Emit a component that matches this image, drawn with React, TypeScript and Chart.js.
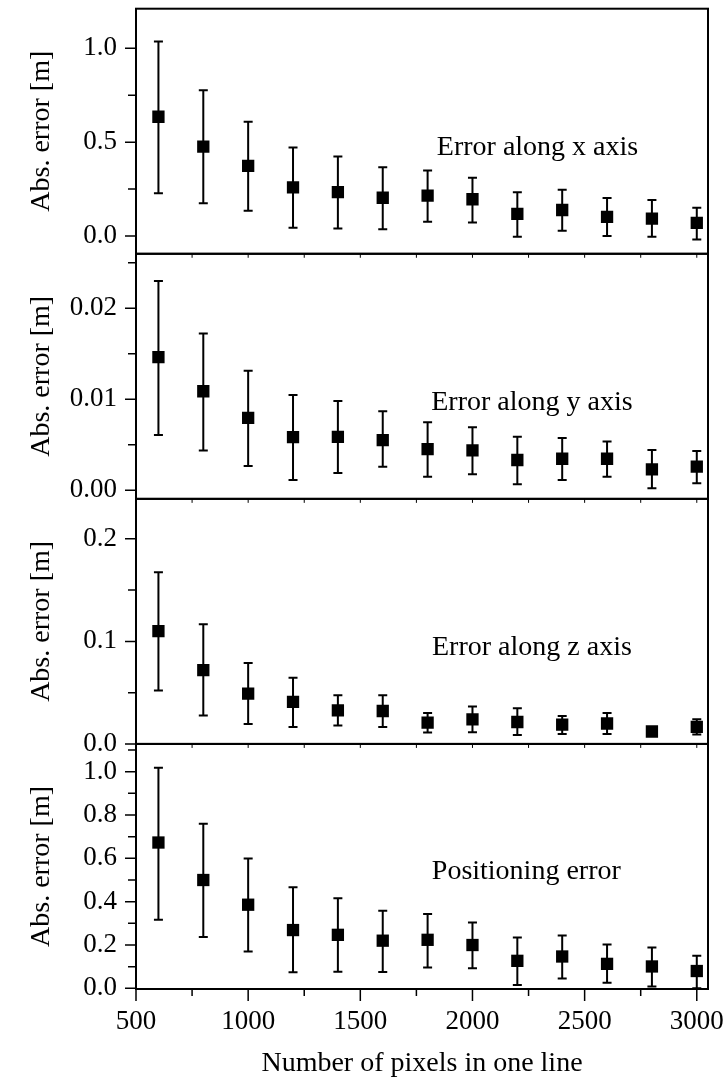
import React, { useEffect, useRef } from 'react';
import { Chart, registerables } from 'chart.js';

Chart.register(...registerables);

// ---------- data ----------
const pixelsPerLine = [600, 800, 1000, 1200, 1400, 1600, 1800, 2000, 2200, 2400, 2600, 2800, 3000];

const errXMean = [0.635, 0.476, 0.374, 0.259, 0.234, 0.204, 0.215, 0.196, 0.118, 0.139, 0.102, 0.093, 0.07];
const errXUpper = [1.035, 0.776, 0.608, 0.471, 0.423, 0.367, 0.349, 0.31, 0.234, 0.247, 0.203, 0.192, 0.151];
const errXLower = [0.228, 0.175, 0.135, 0.044, 0.04, 0.037, 0.077, 0.072, -0.004, 0.028, 0.0, -0.004, -0.018];

const errYMean = [0.01463, 0.01088, 0.00795, 0.00584, 0.00587, 0.00551, 0.00452, 0.00438, 0.00332, 0.00346, 0.00346, 0.0023, 0.00259];
const errYUpper = [0.023, 0.01723, 0.01314, 0.01047, 0.00981, 0.00869, 0.00748, 0.00693, 0.00587, 0.00573, 0.00537, 0.00441, 0.0043];
const errYLower = [0.00606, 0.00438, 0.00266, 0.00113, 0.0019, 0.00259, 0.00149, 0.00175, 0.00066, 0.00113, 0.00149, 0.00022, 0.00077];

const errZMean = [0.11, 0.072, 0.049, 0.041, 0.0328, 0.0321, 0.0208, 0.024, 0.0214, 0.0189, 0.0199, 0.0121, 0.0166];
const errZUpper = [0.1675, 0.1166, 0.079, 0.0646, 0.0474, 0.0474, 0.0302, 0.0364, 0.0348, 0.0273, 0.0302, 0.0145, 0.024];
const errZLower = [0.052, 0.0276, 0.0195, 0.0166, 0.0179, 0.0166, 0.0111, 0.0114, 0.0088, 0.0097, 0.0097, 0.0097, 0.0091];

const posMean = [0.673, 0.5, 0.386, 0.269, 0.247, 0.22, 0.224, 0.2, 0.127, 0.147, 0.113, 0.101, 0.08];
const posUpper = [1.018, 0.76, 0.599, 0.466, 0.416, 0.358, 0.343, 0.304, 0.235, 0.244, 0.202, 0.188, 0.151];
const posLower = [0.317, 0.237, 0.17, 0.074, 0.077, 0.075, 0.096, 0.093, 0.015, 0.045, 0.026, 0.008, 0.0];

const panelLabels = ['Error along x axis', 'Error along y axis', 'Error along z axis', 'Positioning error'];
const panelMin = [-0.094, -0.00095, 0, -0.003];
const panelMax = [1.21, 0.026, 0.239, 1.128];
const panelMajorTicks = [
  [0, 0.5, 1.0],
  [0, 0.01, 0.02],
  [0, 0.1, 0.2],
  [0, 0.2, 0.4, 0.6, 0.8, 1.0],
];
const panelMinorTicks = [
  [0.25, 0.75],
  [0.005, 0.015, 0.025],
  [0.05, 0.15],
  [0.1, 0.3, 0.5, 0.7, 0.9, 1.1],
];
const panelTickDecimals = [1, 2, 1, 1];
const panelLabelX = [2290, 2265, 2265, 2240];
const panelLabelY = [0.47, 0.0096, 0.094, 0.537];

const xMin = 500;
const xMax = 3050;
const xMajorTicks = [500, 1000, 1500, 2000, 2500, 3000];
const xMinorTicks = [750, 1250, 1750, 2250, 2750];

const yAxisTitle = 'Abs. error [m]';
const xAxisTitle = 'Number of pixels in one line';

// ---------- chart ----------
const FONT = '"Liberation Serif", "Times New Roman", serif';
const panelMeans = [errXMean, errYMean, errZMean, posMean];
const panelUppers = [errXUpper, errYUpper, errZUpper, posUpper];
const panelLowers = [errXLower, errYLower, errZLower, posLower];
const panelIds = ['y1', 'y2', 'y3', 'y4'];

const errorBarPlugin = {
  id: 'errorBars',
  beforeDatasetsDraw(chart: any) {
    const ctx = chart.ctx;
    const xs = chart.scales.x;
    ctx.save();
    ctx.strokeStyle = '#000';
    ctx.lineWidth = 2;
    panelIds.forEach((id, p) => {
      const ys = chart.scales[id];
      pixelsPerLine.forEach((xv, i) => {
        const px = xs.getPixelForValue(xv);
        const top = ys.getPixelForValue(panelUppers[p][i]);
        const bot = ys.getPixelForValue(panelLowers[p][i]);
        ctx.beginPath();
        ctx.moveTo(px, top);
        ctx.lineTo(px, bot);
        ctx.moveTo(px - 4.5, top);
        ctx.lineTo(px + 4.5, top);
        ctx.moveTo(px - 4.5, bot);
        ctx.lineTo(px + 4.5, bot);
        ctx.stroke();
      });
    });
    ctx.restore();
  },
};

const framePlugin = {
  id: 'frame',
  afterDraw(chart: any) {
    const ctx = chart.ctx;
    const xs = chart.scales.x;
    const area = chart.chartArea;
    ctx.save();
    ctx.strokeStyle = '#000';
    ctx.fillStyle = '#000';
    // ticks
    ctx.lineWidth = 1.5;
    panelIds.forEach((id, p) => {
      const ys = chart.scales[id];
      ctx.beginPath();
      panelMajorTicks[p].forEach((v) => {
        const py = ys.getPixelForValue(v);
        ctx.moveTo(area.left - 11, py);
        ctx.lineTo(area.left, py);
      });
      panelMinorTicks[p].forEach((v) => {
        const py = ys.getPixelForValue(v);
        ctx.moveTo(area.left - 8, py);
        ctx.lineTo(area.left, py);
      });
      ctx.stroke();
      if (p > 0) {
        ctx.beginPath();
        [...xMajorTicks, ...xMinorTicks].forEach((v) => {
          const px = xs.getPixelForValue(v);
          ctx.moveTo(px, ys.top);
          ctx.lineTo(px, ys.top + 4);
        });
        ctx.lineWidth = 1;
        ctx.stroke();
        ctx.lineWidth = 1.5;
      }
    });
    ctx.beginPath();
    xMajorTicks.forEach((v) => {
      const px = xs.getPixelForValue(v);
      ctx.moveTo(px, area.bottom);
      ctx.lineTo(px, area.bottom + 12);
    });
    xMinorTicks.forEach((v) => {
      const px = xs.getPixelForValue(v);
      ctx.moveTo(px, area.bottom);
      ctx.lineTo(px, area.bottom + 7);
    });
    ctx.stroke();
    // frames
    ctx.lineWidth = 2;
    panelIds.forEach((id) => {
      const ys = chart.scales[id];
      ctx.strokeRect(area.left, ys.top, area.right - area.left, ys.bottom - ys.top);
    });
    // annotations
    ctx.font = `28px ${FONT}`;
    ctx.textAlign = 'center';
    ctx.textBaseline = 'middle';
    panelIds.forEach((id, p) => {
      const ys = chart.scales[id];
      ctx.fillText(panelLabels[p], xs.getPixelForValue(panelLabelX[p]), ys.getPixelForValue(panelLabelY[p]));
    });
    ctx.restore();
  },
};

function makeYScale(p: number) {
  return {
    type: 'linear',
    position: 'left',
    stack: 'panels',
    stackWeight: 1,
    weight: 4 - p,
    min: panelMin[p],
    max: panelMax[p],
    grid: { display: false },
    border: { display: false },
    afterBuildTicks: (scale: any) => {
      scale.ticks = panelMajorTicks[p].map((v) => ({ value: v }));
    },
    afterFit: (scale: any) => {
      scale.width = 136;
      scale.paddingTop = 0;
      scale.paddingBottom = 0;
    },
    ticks: {
      autoSkip: false,
      padding: 11,
      color: '#000',
      font: { family: FONT, size: 27 },
      callback: (v: any) => Number(v).toFixed(panelTickDecimals[p]),
    },
    title: {
      display: true,
      text: yAxisTitle,
      color: '#000',
      font: { family: FONT, size: 28 },
      padding: { top: 25, bottom: 0 },
    },
  };
}

export default function App() {
  const canvasRef = useRef<HTMLCanvasElement | null>(null);

  useEffect(() => {
    if (!canvasRef.current) return;
    const datasets = panelIds.map((id, p) => ({
      label: panelLabels[p],
      data: pixelsPerLine.map((x, i) => ({ x, y: panelMeans[p][i] })),
      yAxisID: id,
      xAxisID: 'x',
      showLine: false,
      pointStyle: 'rect',
      pointRadius: 8.7,
      pointBackgroundColor: '#000',
      pointBorderWidth: 0,
      backgroundColor: '#000',
      borderColor: '#000',
    }));
    const scales: any = {
      x: {
        type: 'linear',
        position: 'bottom',
        min: xMin,
        max: xMax,
        grid: { display: false },
        border: { display: false },
        afterBuildTicks: (scale: any) => {
          scale.ticks = xMajorTicks.map((v) => ({ value: v }));
        },
        afterFit: (scale: any) => {
          scale.height = 100;
          scale.paddingLeft = 0;
          scale.paddingRight = 0;
        },
        ticks: {
          autoSkip: false,
          maxRotation: 0,
          padding: 9,
          color: '#000',
          font: { family: FONT, size: 27 },
          callback: (v: any) => String(v),
        },
        title: {
          display: true,
          text: xAxisTitle,
          color: '#000',
          font: { family: FONT, size: 28 },
          padding: { top: 0, bottom: 9 },
        },
      },
    };
    panelIds.forEach((id, p) => {
      scales[id] = makeYScale(p);
    });

    const chart = new Chart(canvasRef.current, {
      type: 'scatter',
      data: { datasets } as any,
      options: {
        responsive: false,
        animation: false,
        devicePixelRatio: 1,
        layout: { padding: { top: 6, right: 20, left: 0, bottom: 0 } },
        plugins: { legend: { display: false }, tooltip: { enabled: false } },
        scales,
      } as any,
      plugins: [errorBarPlugin, framePlugin],
    });
    return () => chart.destroy();
  }, []);

  return (
    <div style={{ position: 'fixed', left: 0, top: 0, width: 728, height: 1089, background: '#fff' }}>
      <canvas ref={canvasRef} width={728} height={1089} style={{ width: 728, height: 1089 }} />
    </div>
  );
}
